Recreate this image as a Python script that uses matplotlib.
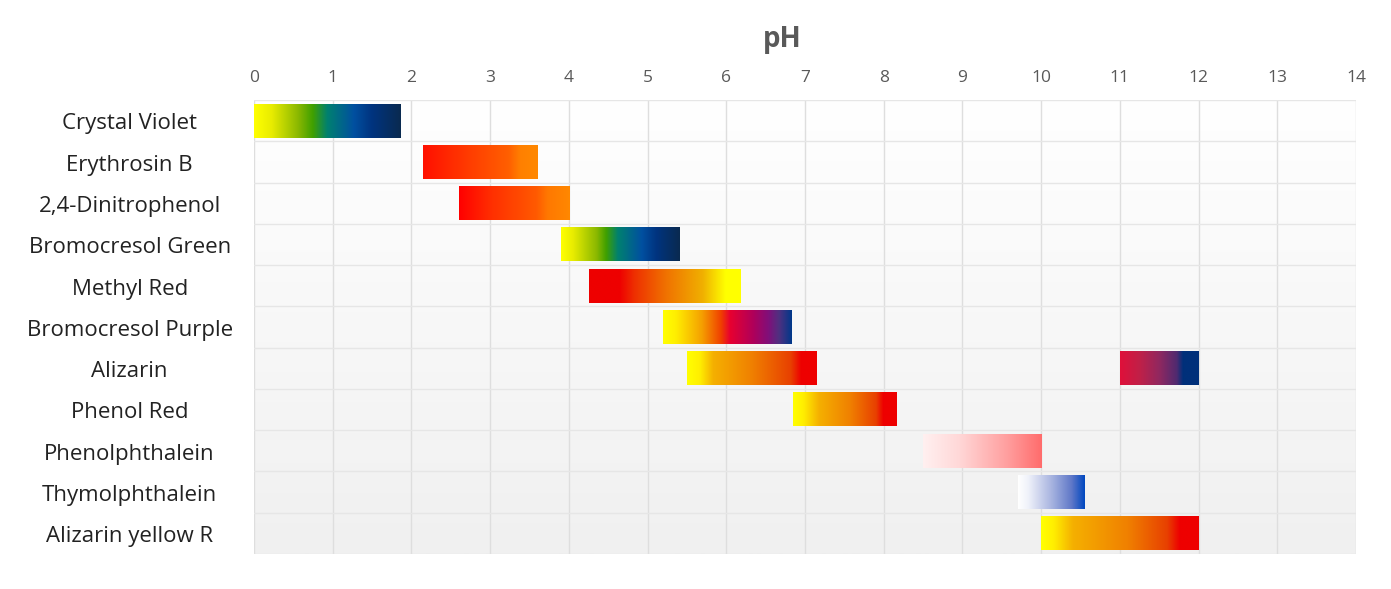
import numpy as np
import matplotlib
matplotlib.use("Agg")
import matplotlib.pyplot as plt
from matplotlib.colors import LinearSegmentedColormap

indicators = ["Crystal Violet", "Erythrosin B", "2,4-Dinitrophenol", "Bromocresol Green",
              "Methyl Red", "Bromocresol Purple", "Alizarin", "Phenol Red",
              "Phenolphthalein", "Thymolphthalein", "Alizarin yellow R"]
# (row index, start pH, end pH)
range_row = [0, 1, 2, 3, 4, 5, 6, 6, 7, 8, 9, 10]
range_start = [0.0, 2.15, 2.6, 3.9, 4.25, 5.2, 5.5, 11.0, 6.85, 8.5, 9.7, 10.0]
range_end = [1.86, 3.6, 4.0, 5.4, 6.17, 6.83, 7.15, 12.0, 8.16, 10.0, 10.55, 12.0]
range_colors = [
    [(0, "#ffff00"), (0.12, "#e8ec00"), (0.3, "#8ab800"), (0.4, "#40a000"), (0.5, "#008070"), (0.68, "#0050a0"), (0.8, "#003480"), (1, "#0a2a50")],
    [(0, "#ff1000"), (0.4, "#ff3c00"), (0.75, "#ff6000"), (0.85, "#ff8000"), (1, "#ff8800")],
    [(0, "#ff0000"), (0.3, "#ff3000"), (0.7, "#ff5a00"), (0.8, "#ff7800"), (1, "#ff8800")],
    [(0, "#ffff00"), (0.1, "#e8ec00"), (0.3, "#8ab800"), (0.38, "#40a000"), (0.48, "#008070"), (0.68, "#0050a0"), (0.8, "#003480"), (1, "#0a2a50")],
    [(0, "#ee0000"), (0.2, "#ee0000"), (0.3, "#ee3000"), (0.5, "#f07000"), (0.75, "#f0b000"), (0.9, "#ffff00"), (1, "#ffff00")],
    [(0, "#ffff00"), (0.1, "#ffee00"), (0.3, "#f5a000"), (0.45, "#f04000"), (0.52, "#e80030"), (0.7, "#b0005a"), (0.82, "#80107a"), (0.9, "#503080"), (1, "#00388a")],
    [(0, "#ffff00"), (0.1, "#ffee00"), (0.2, "#f5b000"), (0.5, "#f08000"), (0.8, "#e84000"), (0.88, "#ee0000"), (1, "#ee0000")],
    [(0, "#e0103a"), (0.25, "#c02048"), (0.5, "#902860"), (0.72, "#502a70"), (0.8, "#00307a"), (1, "#00307a")],
    [(0, "#ffff00"), (0.1, "#ffee00"), (0.25, "#f5b000"), (0.55, "#f08000"), (0.8, "#e84000"), (0.87, "#ee0000"), (1, "#ee0000")],
    [(0, "#fff0f0"), (0.3, "#ffd8d8"), (0.7, "#ffa0a0"), (1, "#ff6c6c")],
    [(0, "#ffffff"), (0.15, "#f0f2fa"), (0.5, "#a8b4e0"), (0.8, "#6078c8"), (1, "#0048c0")],
    [(0, "#ffff00"), (0.08, "#ffee00"), (0.2, "#f5b000"), (0.55, "#f08000"), (0.8, "#e84000"), (0.88, "#ee0000"), (1, "#ee0000")],
]
x_ticks = list(range(0, 15))

fig = plt.figure(figsize=(13.91, 5.89), dpi=100)
ax = fig.add_axes([254/1391, 1-554/589, (1356-254)/1391, (554-100)/589])
n = len(indicators)
ax.set_xlim(0, 14)
ax.set_ylim(n, 0)

# background gradient
bg = LinearSegmentedColormap.from_list("bg", ["#ffffff", "#f0f0f0"])
ax.imshow(np.linspace(0, 1, 256).reshape(-1, 1), cmap=bg, aspect="auto",
          extent=(0, 14, n, 0), zorder=0, interpolation="bilinear")

for x in x_ticks:
    ax.axvline(x, color="#dedede", lw=1, zorder=1)
for y in range(n + 1):
    ax.axhline(y, color="#e6e6e6", lw=1, zorder=1)

grad = np.linspace(0, 1, 512).reshape(1, -1)
h = 0.82
for r, s, e, stops in zip(range_row, range_start, range_end, range_colors):
    cmap = LinearSegmentedColormap.from_list("c", stops)
    ax.imshow(grad, cmap=cmap, aspect="auto", extent=(s, e, r + 0.5 + h/2, r + 0.5 - h/2),
              zorder=3, interpolation="bilinear")

ax.set_xlim(0, 14)
ax.set_ylim(n, 0)
ax.xaxis.tick_top()
ax.set_xticks(x_ticks)
ax.tick_params(axis="x", length=0, pad=10, labelsize=12.5, labelcolor="#595959")
ax.set_yticks([])
for sp in ax.spines.values():
    sp.set_visible(False)
for lab in ax.get_xticklabels():
    lab.set_fontfamily("Open Sans")

for i, name in enumerate(indicators):
    ax.text(-1.58, i + 0.58, name, ha="center", va="center", fontsize=16,
            fontfamily="Open Sans", color="#222222")

fig.text(782 / 1391, 1 - 39/589, "pH", ha="center", va="center",
         fontsize=20, fontweight="bold", color="#595959", fontfamily="Open Sans")

fig.savefig("out.png", dpi=100, facecolor="white")
